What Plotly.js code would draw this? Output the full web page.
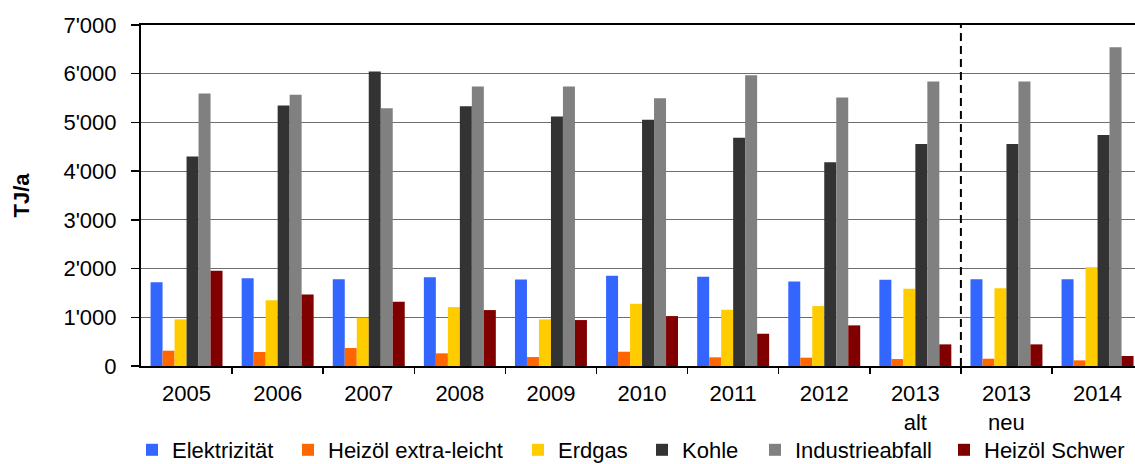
<!DOCTYPE html>
<html>
<head>
<meta charset="utf-8">
<script src="https://cdn.plot.ly/plotly-3.0.1.min.js"></script>
<style>
  html, body { margin: 0; padding: 0; background: #fff; }
  #chart { width: 1135px; height: 464px; }
</style>
</head>
<body>
<div id="chart"></div>
<script>
// Categories (x axis)
const categories = ["2005", "2006", "2007", "2008", "2009", "2010", "2011", "2012", "2013 alt", "2013 neu", "2014"];
const categoryLabels = ["2005", "2006", "2007", "2008", "2009", "2010", "2011", "2012", "2013<br>alt", "2013<br>neu", "2014"];

// Series values (TJ/a)
const elektrizitaet      = [1720, 1803, 1783, 1824, 1776, 1851, 1830, 1735, 1769, 1783, 1783];
const heizoelExtraLeicht = [314, 287, 369, 260, 184, 293, 178, 171, 143, 150, 116];
const erdgas             = [957, 1352, 990, 1209, 957, 1277, 1154, 1230, 1584, 1598, 2029];
const kohle              = [4303, 5348, 6045, 5334, 5123, 5055, 4686, 4180, 4555, 4555, 4740];
const industrieabfall    = [5594, 5567, 5293, 5738, 5738, 5498, 5970, 5512, 5840, 5840, 6543];
const heizoelSchwer      = [1953, 1469, 1318, 1148, 943, 1025, 662, 834, 444, 444, 205];

// Y tick labels
const yTickValues = [0, 1000, 2000, 3000, 4000, 5000, 6000, 7000];
const yTickLabels = ["0", "1'000", "2'000", "3'000", "4'000", "5'000", "6'000", "7'000"];

const seriesNames = ["Elektrizität", "Heizöl extra-leicht", "Erdgas", "Kohle", "Industrieabfall", "Heizöl Schwer"];
const seriesValues = [elektrizitaet, heizoelExtraLeicht, erdgas, kohle, industrieabfall, heizoelSchwer];
const seriesColors = ["#3366FF", "#FF6600", "#FFCC00", "#333333", "#808080", "#800000"];

const FONT = "Liberation Sans, Arial, sans-serif";
const plotLeft = 141, plotWidth = 994;
const legendSquareLeft = [150, 306, 536, 660, 773, 962];
const legendNames = ["legend", "legend2", "legend3", "legend4", "legend5", "legend6"];

const xIdx = categories.map((c, i) => i);

const traces = seriesNames.map((name, k) => ({
  type: "bar",
  name: name,
  x: xIdx,
  y: seriesValues[k],
  marker: { color: seriesColors[k], line: { width: 0 } },
  legend: legendNames[k],
  hoverinfo: "x+y+name"
}));

const layout = {
  width: 1135,
  height: 464,
  margin: { l: plotLeft, r: 0, t: 25, b: 98, pad: 0, autoexpand: false },
  paper_bgcolor: "#ffffff",
  plot_bgcolor: "#ffffff",
  font: { family: FONT, size: 22, color: "#000000" },
  barmode: "group",
  bargap: 0.21,
  bargroupgap: 0,
  showlegend: true,
  xaxis: {
    type: "linear",
    range: [-0.5, -0.5 + plotWidth / 91.1],
    tickmode: "array",
    tickvals: xIdx,
    ticktext: categoryLabels,
    showgrid: false,
    zeroline: false,
    showline: true,
    mirror: true,
    linecolor: "#000000",
    linewidth: 2,
    ticks: "",
    tickfont: { family: FONT, size: 22, color: "#000000" },
    ticklabelstandoff: 7,
    automargin: false,
    fixedrange: true
  },
  xaxis2: {
    overlaying: "x",
    type: "linear",
    range: [-0.5, -0.5 + plotWidth / 91.1],
    tickmode: "array",
    tickvals: xIdx.map(i => i + 0.5),
    ticktext: xIdx.map(() => ""),
    showgrid: false,
    zeroline: false,
    showline: false,
    ticks: "outside",
    ticklen: 7,
    tickwidth: 1.5,
    tickcolor: "#000000",
    side: "bottom",
    anchor: "y",
    automargin: false
  },
  yaxis: {
    range: [0, 7000],
    tickmode: "array",
    tickvals: yTickValues,
    ticktext: yTickLabels,
    showgrid: true,
    gridcolor: "#6e6e6e",
    gridwidth: 1,
    zeroline: false,
    showline: true,
    linecolor: "#000000",
    linewidth: 2,
    ticks: "outside",
    ticklen: 8,
    tickwidth: 1.5,
    tickcolor: "#000000",
    tickfont: { family: FONT, size: 22, color: "#000000" },
    ticklabelstandoff: 10,
    automargin: false,
    title: { text: "<b>TJ/a</b>", font: { family: FONT, size: 22, color: "#000000" }, standoff: 28 },
    fixedrange: true
  },
  shapes: [{
    type: "line",
    xref: "x",
    yref: "paper",
    x0: 8.5, x1: 8.5,
    y0: 0, y1: 1,
    line: { color: "#000000", width: 2, dash: "8px,5px" }
  }]
};

// one small legend per series, placed like the reference's legend row
legendNames.forEach((ln, k) => {
  layout[ln] = {
    orientation: "h",
    x: (legendSquareLeft[k] - 18 - plotLeft) / plotWidth,
    xanchor: "left",
    y: (366 - 450) / 341,
    yanchor: "middle",
    yref: "paper",
    bgcolor: "rgba(0,0,0,0)",
    borderwidth: 0,
    font: { family: FONT, size: 22, color: "#000000" },
    itemwidth: 30,
    itemclick: false,
    itemdoubleclick: false
  };
});

// Invisible helper trace so that xaxis2 (boundary ticks) is drawn
traces.push({
  type: "scatter",
  x: [], y: [],
  xaxis: "x2",
  yaxis: "y",
  showlegend: false,
  hoverinfo: "skip"
});

Plotly.newPlot("chart", traces, layout, { displayModeBar: false, staticPlot: true });
</script>
</body>
</html>
